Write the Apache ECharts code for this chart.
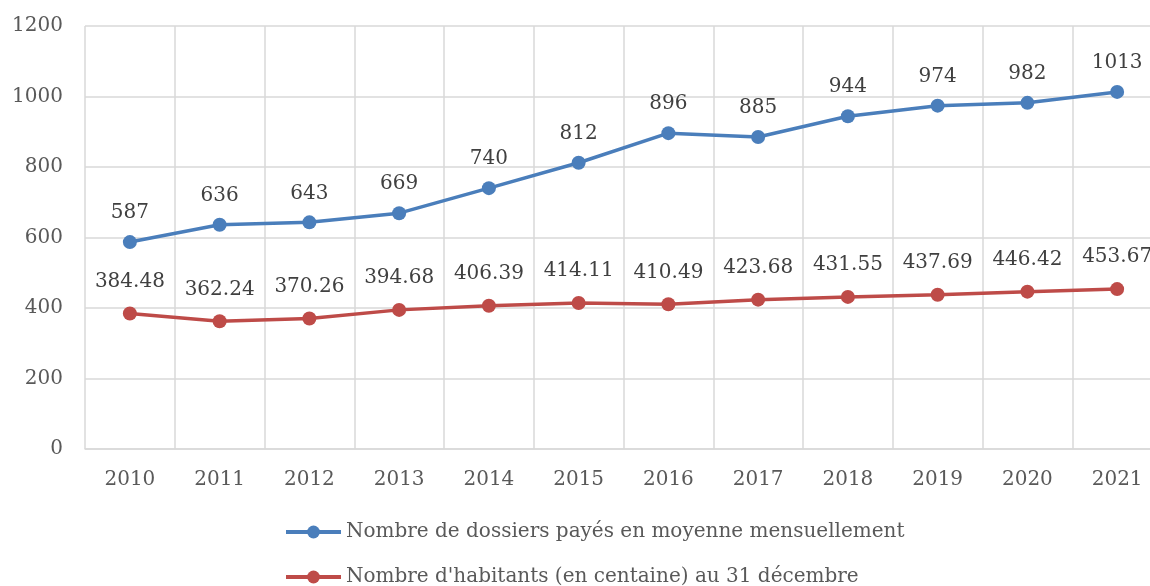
<!DOCTYPE html>
<html>
<head>
<meta charset="utf-8">
<script src="https://cdn.jsdelivr.net/npm/echarts@6/dist/echarts.min.js"></script>
<style>
  html, body { margin: 0; padding: 0; background: #fff; }
  #chart { width: 1150px; height: 586px; }
</style>
</head>
<body>
<div id="chart"></div>
<script>
// années (axe des catégories)
const years = ['2010', '2011', '2012', '2013', '2014', '2015', '2016', '2017', '2018', '2019', '2020', '2021']
// dossiers payés en moyenne mensuellement
const dossiers = [587, 636, 643, 669, 740, 812, 896, 885, 944, 974, 982, 1013]
// habitants (en centaine) au 31 décembre
const habitants = [384.48, 362.24, 370.26, 394.68, 406.39, 414.11, 410.49, 423.68, 431.55, 437.69, 446.42, 453.67]
const serieNames = [
  'Nombre de dossiers payés en moyenne mensuellement',
  "Nombre d'habitants (en centaine) au 31 décembre"
]

const font = 'DejaVu Serif'
const textColor = '#595959'
const gridColor = '#d9d9d9'

const chart = echarts.init(document.getElementById('chart'))

// une légende par ligne, pour garder les deux entrées l'une sous l'autre
const legendBase = {
  orient: 'horizontal',
  left: 284,
  padding: 0,
  itemWidth: 55,
  itemHeight: 16,
  itemGap: 5,
  lineStyle: { width: 4 },
  textStyle: { fontFamily: font, fontSize: 20, color: textColor }
}

const option = {
  animation: false,
  textStyle: { fontFamily: font },
  grid: {
    left: 85,
    width: 1077, // la dernière colonne dépasse du bord droit, comme l'original
    top: 26,
    bottom: 137,
    outerBoundsMode: 'none'
  },
  legend: [
    Object.assign({}, legendBase, { top: 522, data: [serieNames[0]] }),
    Object.assign({}, legendBase, { top: 567, data: [serieNames[1]] })
  ],
  xAxis: {
    type: 'category',
    data: years,
    boundaryGap: true,
    axisLine: { lineStyle: { color: gridColor, width: 1.5 } },
    axisTick: { show: false },
    axisLabel: { fontFamily: font, fontSize: 20, color: textColor, margin: 21 },
    splitLine: { show: true, interval: 0, lineStyle: { color: gridColor, width: 1.5 } }
  },
  yAxis: {
    type: 'value',
    min: 0,
    max: 1200,
    interval: 200,
    axisLine: { show: false },
    axisTick: { show: false },
    axisLabel: { fontFamily: font, fontSize: 20, color: textColor, margin: 22, formatter: (v) => String(v) },
    splitLine: { lineStyle: { color: gridColor, width: 1.5 } }
  },
  series: [
    {
      name: serieNames[0],
      type: 'line',
      data: dossiers,
      color: '#4a7ebb',
      symbol: 'circle',
      symbolSize: 14,
      lineStyle: { width: 3.5 },
      label: {
        show: true,
        position: 'top',
        distance: 12,
        fontFamily: font,
        fontSize: 20,
        color: '#404040'
      }
    },
    {
      name: serieNames[1],
      type: 'line',
      data: habitants,
      color: '#be4b48',
      symbol: 'circle',
      symbolSize: 14,
      lineStyle: { width: 3.5 },
      label: {
        show: true,
        position: 'top',
        distance: 15,
        fontFamily: font,
        fontSize: 20,
        color: '#404040',
        formatter: (p) => p.value.toFixed(2)
      }
    }
  ]
}

chart.setOption(option)
</script>
</body>
</html>
